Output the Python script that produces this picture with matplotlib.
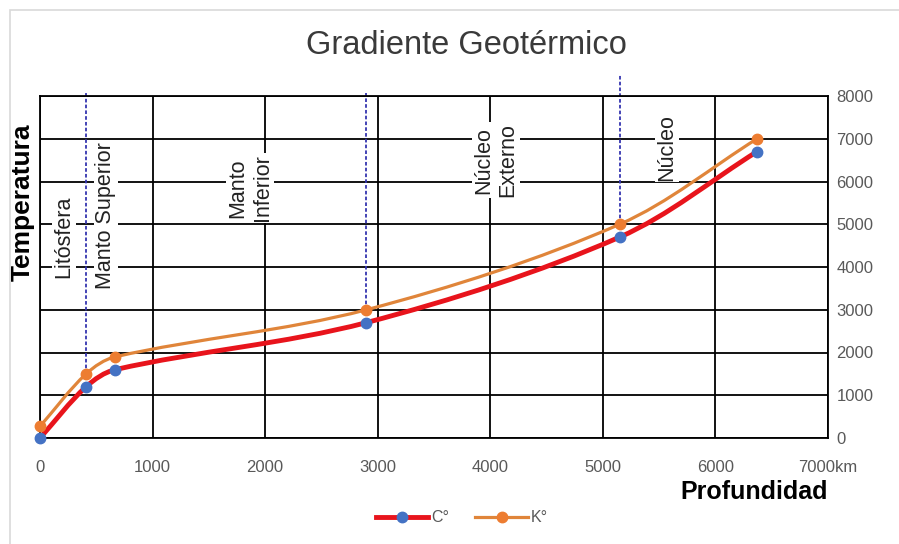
import matplotlib
matplotlib.use("Agg")
import matplotlib.pyplot as plt
from matplotlib.path import Path
from matplotlib.patches import PathPatch, Rectangle
from matplotlib.lines import Line2D
import numpy as np

# depth (km) and temperature readings
profundidad = [0, 410, 670, 2900, 5150, 6370]
temp_c = [0, 1200, 1600, 2700, 4700, 6700]
temp_k = [273, 1500, 1900, 3000, 5000, 7000]

# layer boundaries (dashed lines): x, top, bottom
limites_x = [410, 2900, 5150]
limites_top = [8080, 8080, 8500]
limites_bot = [1500, 3000, 5000]

# layer names: text, x, y
capas = ["Litósfera", "Manto Superior", "Manto\nInferior", "Núcleo\nExterno", "Núcleo"]
capas_x = [212, 585, 1865, 4050, 5570]
capas_y = [4700, 5200, 5850, 6500, 6800]

xticks = [0, 1000, 2000, 3000, 4000, 5000, 6000, 7000]
xticklabels = ["0", "1000", "2000", "3000", "4000", "5000", "6000", "7000km"]
yticks = [0, 1000, 2000, 3000, 4000, 5000, 6000, 7000, 8000]

plt.rcParams['font.family'] = ['Liberation Sans', 'DejaVu Sans']

# pixels per data unit, used so the smoothing works in screen proportions
SX = 788 / 7000
SY = 342 / 8000


def smooth_path(x, y, t=0.33):
    # bezier through the points, tangents scaled by segment length
    pts = np.column_stack([np.asarray(x) * SX, np.asarray(y) * SY]).astype(float)
    n = len(pts)
    tang = []
    for i in range(n):
        a = pts[max(i - 1, 0)]
        b = pts[min(i + 1, n - 1)]
        d = b - a
        tang.append(d / np.hypot(*d))
    verts = [pts[0]]
    codes = [Path.MOVETO]
    for i in range(n - 1):
        L = np.hypot(*(pts[i + 1] - pts[i]))
        c1 = pts[i] + tang[i] * L * t
        c2 = pts[i + 1] - tang[i + 1] * L * t
        verts += [c1, c2, pts[i + 1]]
        codes += [Path.CURVE4] * 3
    verts = np.array(verts) / [SX, SY]
    return Path(verts, codes)


fig = plt.figure(figsize=(8.99, 5.44), dpi=100)
fig.patches.append(Rectangle((10 / 899, -0.05), 1.0, 0.05 + 1 - 10 / 544,
                             transform=fig.transFigure, fill=False,
                             edgecolor='#d9d9d9', linewidth=1.2))
ax = fig.add_axes([40 / 899, 1 - 438 / 544, (828 - 40) / 899, (438 - 96) / 544])

ax.set_xlim(0, 7000)
ax.set_ylim(0, 8000)
ax.set_xticks(xticks)
ax.set_xticklabels(xticklabels)
ax.set_yticks(yticks)
ax.yaxis.tick_right()
ax.tick_params(length=0, labelsize=12, colors='#595959', pad=6)
ax.tick_params(axis='x', pad=16)
ax.grid(True, color='black', linewidth=1.3)
ax.set_axisbelow(True)
for s in ax.spines.values():
    s.set_color('black')
    s.set_linewidth(1.3)

# boundaries
for xv, yt, yb in zip(limites_x, limites_top, limites_bot):
    ax.plot([xv, xv], [yb, yt], color='#3535b0', linestyle=(0, (2, 1.2)),
            linewidth=1.3, clip_on=False, zorder=2)

# smoothed lines
ax.add_patch(PathPatch(smooth_path(profundidad, temp_c), facecolor='none',
                       edgecolor='#e8141c', linewidth=3.5, zorder=3,
                       capstyle='round'))
ax.add_patch(PathPatch(smooth_path(profundidad, temp_k), facecolor='none',
                       edgecolor='#e0853a', linewidth=2.3, zorder=4,
                       capstyle='round'))
ax.plot(profundidad, temp_c, linestyle='none', marker='o', markersize=7.5,
        color='#4472c4', zorder=5, clip_on=False)
ax.plot(profundidad, temp_k, linestyle='none', marker='o', markersize=7.5,
        color='#ed7d31', zorder=6, clip_on=False)

for t, xv, yv in zip(capas, capas_x, capas_y):
    ax.text(xv, yv, t, rotation=90, ha='center', va='center', fontsize=15.5,
            color='#222222', multialignment='center', linespacing=1.2,
            bbox=dict(facecolor='white', edgecolor='none', pad=1.0), zorder=3)

fig.text(466 / 899, 1 - 45 / 544, "Gradiente Geotérmico", ha='center',
         va='center', fontsize=23.5, color='#3a3a3a')
fig.text(23 / 899, 1 - 202 / 544, "Temperatura", rotation=90, ha='center',
         va='center', fontsize=19, fontweight='bold', color='black')
fig.text(828 / 899, 1 - 492 / 544, "Profundidad", ha='right', va='center',
         fontsize=18, fontweight='bold', color='black')

handles = [Line2D([], [], color='#e8141c', linewidth=3.5, marker='o',
                  markersize=7.5, markerfacecolor='#4472c4',
                  markeredgecolor='#4472c4'),
           Line2D([], [], color='#e0853a', linewidth=2.3, marker='o',
                  markersize=7.5, markerfacecolor='#ed7d31',
                  markeredgecolor='#ed7d31')]
leg = fig.legend(handles, ["C°", "K°"], loc='center', ncol=2,
                 bbox_to_anchor=(462 / 899, 1 - 518 / 544), frameon=False,
                 fontsize=11.5, handlelength=3.3, handletextpad=0.2,
                 columnspacing=1.6)
for t in leg.get_texts():
    t.set_color('#595959')

fig.savefig("out.png", dpi=100)
